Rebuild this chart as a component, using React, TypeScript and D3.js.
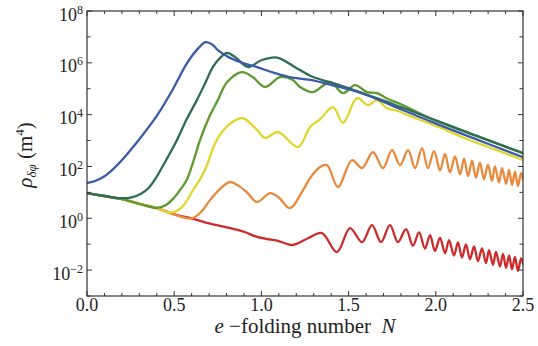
import React from 'react';
import * as d3 from 'd3';

type P = [number, number]; // [e-folding number N, log10 rho]

const xTickLabels = ['0.0', '0.5', '1.0', '1.5', '2.0', '2.5'];
const xTickValues = [0, 0.5, 1, 1.5, 2, 2.5];
const yTickExps = [-2, 0, 2, 4, 6, 8];

const redCurve: P[] = [
  [0, 0.97], [0.1, 0.86], [0.2, 0.74], [0.3, 0.56], [0.4, 0.39], [0.5, 0.15], [0.61, -0.02],
  [0.7, -0.2], [0.82, -0.38], [0.9, -0.52], [0.975, -0.72], [1.03, -0.8], [1.09, -0.86],
  [1.18, -1.03], [1.27, -0.76],
  [1.347, -0.571], [1.433, -1.305], [1.508, -0.378], [1.577, -0.919], [1.634, -0.263],
  [1.686, -0.919], [1.737, -0.263], [1.783, -0.919], [1.829, -0.42], [1.869, -1.058],
  [1.904, -0.548], [1.938, -1.166], [1.967, -0.656], [1.995, -1.259], [2.024, -0.753],
  [2.053, -1.351], [2.076, -0.842], [2.104, -1.436], [2.127, -0.931], [2.15, -1.51],
  [2.173, -1.008], [2.196, -1.583], [2.219, -1.085], [2.242, -1.656], [2.265, -1.166],
  [2.288, -1.73], [2.305, -1.232], [2.328, -1.795], [2.345, -1.301], [2.368, -1.861],
  [2.385, -1.371], [2.403, -1.915], [2.42, -1.429], [2.437, -1.973], [2.454, -1.49],
  [2.471, -2.027], [2.489, -1.548], [2.5, -1.75],
];

const orangeCurve: P[] = [
  [0, 0.97], [0.1, 0.86], [0.2, 0.74], [0.3, 0.56], [0.4, 0.39], [0.5, 0.15], [0.6, 0.0],
  [0.655, 0.25], [0.705, 0.7], [0.774, 1.2], [0.82, 1.4], [0.87, 1.25], [0.917, 1.0],
  [0.975, 0.63], [1.05, 0.97], [1.1, 0.8], [1.164, 0.39], [1.239, 1.09], [1.279, 1.55],
  [1.336, 1.98], [1.376, 2.054], [1.439, 1.205], [1.519, 2.247], [1.577, 1.938],
  [1.64, 2.556], [1.697, 1.938], [1.749, 2.633], [1.795, 2.05], [1.841, 2.633],
  [1.881, 1.938], [1.921, 2.71], [1.955, 1.938], [1.99, 2.595], [2.024, 1.846],
  [2.053, 2.486], [2.081, 1.768], [2.11, 2.39], [2.139, 1.691], [2.162, 2.301],
  [2.185, 1.629], [2.208, 2.224], [2.23, 1.568], [2.253, 2.147], [2.276, 1.506],
  [2.299, 2.069], [2.322, 1.444], [2.339, 2.0], [2.362, 1.39], [2.38, 1.931],
  [2.403, 1.336], [2.42, 1.865], [2.437, 1.29], [2.454, 1.803], [2.471, 1.243],
  [2.489, 1.745], [2.5, 1.5],
];

const yellowCurve: P[] = [
  [0, 0.97], [0.1, 0.86], [0.2, 0.74], [0.3, 0.56], [0.4, 0.39], [0.47, 0.22], [0.52, 0.3],
  [0.56, 0.55], [0.6, 1.0], [0.648, 1.5], [0.688, 2.05], [0.722, 2.7], [0.76, 3.2],
  [0.803, 3.55], [0.889, 3.87], [0.975, 3.41], [1.021, 3.1], [1.095, 3.33], [1.21, 2.75],
  [1.279, 3.52], [1.336, 3.82], [1.411, 4.29], [1.468, 3.68], [1.548, 4.64], [1.611, 4.37],
  [1.663, 4.56], [1.72, 4.25], [1.78, 4.15], [1.84, 3.98], [1.9, 3.82], [1.98, 3.62],
  [2.05, 3.43], [2.12, 3.22], [2.2, 3.0], [2.3, 2.75], [2.4, 2.5], [2.5, 2.25],
];

const greenCurve: P[] = [
  [0, 0.97], [0.1, 0.86], [0.2, 0.74], [0.3, 0.56], [0.4, 0.4], [0.45, 0.5], [0.5, 0.8],
  [0.54, 1.15], [0.573, 1.5], [0.61, 2.2], [0.648, 3.02], [0.7, 3.9], [0.75, 4.56],
  [0.803, 5.25], [0.889, 5.64], [0.95, 5.45], [1.021, 5.07], [1.107, 5.45], [1.18, 5.34],
  [1.221, 5.07], [1.296, 4.87], [1.393, 5.26], [1.468, 4.83], [1.537, 5.14], [1.606, 4.87],
  [1.663, 4.83], [1.72, 4.62], [1.8, 4.4], [1.98, 3.82], [2.2, 3.26], [2.5, 2.5],
];

const tealCurve: P[] = [
  [0, 0.97], [0.1, 0.86], [0.18, 0.78], [0.25, 0.8], [0.31, 0.95], [0.35, 1.15],
  [0.39, 1.5], [0.45, 2.2], [0.516, 3.02], [0.57, 3.8], [0.63, 4.56], [0.68, 5.25],
  [0.722, 5.84], [0.765, 6.2], [0.803, 6.38], [0.85, 6.22], [0.923, 5.84], [1.0, 6.1],
  [1.09, 6.2], [1.2, 5.8], [1.28, 5.5], [1.35, 5.33], [1.41, 5.22], [1.5, 5.02],
  [1.6, 4.78], [1.75, 4.42], [1.98, 3.83], [2.2, 3.27], [2.5, 2.52],
];

const blueCurve: P[] = [
  [0, 1.36], [0.05, 1.45], [0.1, 1.62], [0.15, 1.9], [0.21, 2.32], [0.3, 3.05], [0.4, 3.95],
  [0.49, 4.95], [0.57, 5.95], [0.63, 6.5], [0.68, 6.8], [0.72, 6.7], [0.75, 6.49],
  [0.82, 6.19], [0.9, 5.98], [0.97, 5.84], [1.07, 5.62], [1.16, 5.45], [1.28, 5.34],
  [1.4, 5.15], [1.5, 4.98], [1.61, 4.74], [1.75, 4.35], [1.98, 3.71], [2.2, 3.13], [2.5, 2.36],
];

const seriesData = [redCurve, orangeCurve, yellowCurve, greenCurve, tealCurve, blueCurve];
const seriesColors = ['#cc2b2b', '#e8893b', '#e2d52c', '#5c9a2e', '#2e6c55', '#3a5ba8'];

const FONT = 'Liberation Serif, DejaVu Serif, serif';

export default function App() {
  const left = 87, right = 523, top = 11, bottom = 296;
  const x = d3.scaleLinear().domain([0, 2.5]).range([left, right]);
  const y = d3.scaleLog().domain([1e-3, 1e8]).range([bottom, top]);
  const line = d3
    .line<P>()
    .x((d) => x(d[0]))
    .y((d) => y(Math.pow(10, d[1])))
    .curve(d3.curveCatmullRom.alpha(0.5));

  const xMinor = x.ticks(25);
  const yDecades = d3.range(-3, 9);
  const frame = '#333';
  const txt = { fontFamily: FONT } as React.CSSProperties;

  return (
    <svg width={538} height={346} style={{ position: 'absolute', left: 0, top: 0 }}>
      <rect width={538} height={346} fill="#fff" />
      <defs>
        <clipPath id="plotClip">
          <rect x={left} y={top} width={right - left} height={bottom - top} />
        </clipPath>
      </defs>
      <g clipPath="url(#plotClip)" fill="none" strokeLinejoin="round" strokeLinecap="round">
        {seriesData.map((s, i) => (
          <path key={i} d={line(s) || ''} stroke={seriesColors[i]} strokeWidth={2.3} />
        ))}
      </g>
      <g stroke={frame} strokeWidth={1}>
        {xMinor.map((t, i) => {
          const major = xTickValues.some((v) => Math.abs(v - t) < 1e-6);
          const len = major ? 5 : 3;
          return (
            <g key={'xt' + i}>
              <line x1={x(t)} x2={x(t)} y1={bottom} y2={bottom - len} />
              <line x1={x(t)} x2={x(t)} y1={top} y2={top + len} />
            </g>
          );
        })}
        {yDecades.map((e) => {
          const major = e % 2 === 0;
          const len = major ? 5 : 3.5;
          const yy = y(Math.pow(10, e));
          return (
            <g key={'yt' + e}>
              <line x1={left} x2={left + len} y1={yy} y2={yy} />
              <line x1={right} x2={right - len} y1={yy} y2={yy} />
            </g>
          );
        })}
      </g>
      <rect x={left} y={top} width={right - left} height={bottom - top} fill="none" stroke={frame} strokeWidth={1.2} />
      <g style={txt} fontSize={18} fill="#222" textAnchor="middle">
        {xTickValues.map((v, i) => (
          <text key={'xl' + i} x={x(v)} y={311} style={txt}>
            {xTickLabels[i]}
          </text>
        ))}
      </g>
      <g fill="#222" textAnchor="end">
        {yTickExps.map((e) => (
          <text key={'yl' + e} x={83} y={y(Math.pow(10, e)) + 9.5} fontSize={18} style={txt}>
            10
            <tspan dy={-7} fontSize={12}>
              {e < 0 ? '\u2212' + Math.abs(e) : String(e)}
            </tspan>
          </text>
        ))}
      </g>
      <text x={305} y={333} textAnchor="middle" style={txt} fontSize={21} fill="#222">
        <tspan fontStyle="italic">e</tspan>
        <tspan>{'\u00a0\u2212folding number\u00a0\u00a0'}</tspan>
        <tspan fontStyle="italic">N</tspan>
      </text>
      <text
        transform="translate(32,155) rotate(-90)"
        textAnchor="middle"
        style={txt}
        fontSize={21}
        fill="#222"
      >
        <tspan fontStyle="italic">ρ</tspan>
        <tspan fontStyle="italic" fontSize={13} dy={4}>δφ</tspan>
        <tspan dy={-4}>{'\u00a0(m'}</tspan>
        <tspan fontSize={13} dy={-8}>4</tspan>
        <tspan dy={8}>)</tspan>
      </text>
    </svg>
  );
}
